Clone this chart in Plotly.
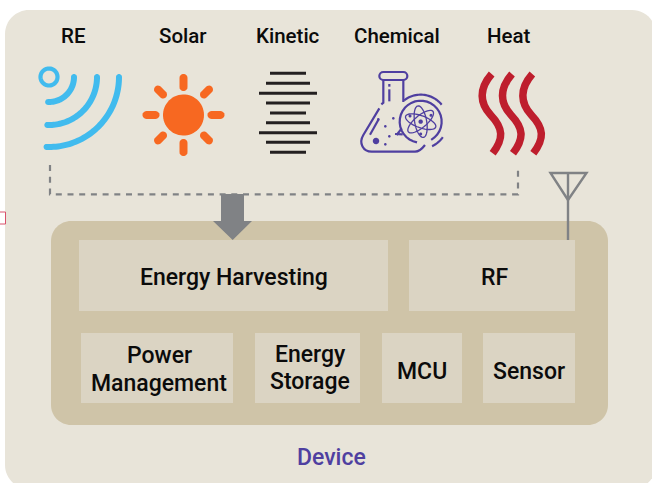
import numpy as np
import plotly.graph_objects as go

# --- content ---
source_labels = ["RE", "Solar", "Kinetic", "Chemical", "Heat"]
block_labels = ["Energy Harvesting", "RF", "Power", "Management", "Energy", "Storage", "MCU", "Sensor"]
device_label = "Device"

# --- layout helpers (pixel canvas) ---
W, H = 652, 483
PAPER = "#ffffff"; OUTER = "#E8E4D9"; INNER = "#CFC4A8"; BOX = "#DBD4C3"
GREY = "#808285"; BLUE = "#41BBEE"; ORANGE = "#F76821"; DARK = "#231F20"
PURPLE = "#4F3FA0"; RED = "#BE1E2D"
shapes = []

def add_path(d, fill=None, line=None, width=0, dash=None):
    l = dict(width=width, color=line or "rgba(0,0,0,0)")
    if dash: l["dash"] = dash
    shapes.append(dict(type="path", path=d, xref="x", yref="y", line=l,
                       fillcolor=fill or "rgba(0,0,0,0)", layer="above"))

def poly(pts, close=False):
    return "M" + " L".join(f"{x:.2f},{y:.2f}" for x, y in pts) + (" Z" if close else "")

def rrect(x0, y0, x1, y1, r):
    k = 0.45 * r
    return (f"M{x0+r},{y0} L{x1-r},{y0} C{x1-k},{y0} {x1},{y0+k} {x1},{y0+r} "
            f"L{x1},{y1-r} C{x1},{y1-k} {x1-k},{y1} {x1-r},{y1} "
            f"L{x0+r},{y1} C{x0+k},{y1} {x0},{y1-k} {x0},{y1-r} "
            f"L{x0},{y0+r} C{x0},{y0+k} {x0+k},{y0} {x0+r},{y0} Z")

def capsule(x0, y0, x1, y1, w):
    a = np.arctan2(y1 - y0, x1 - x0); r = w / 2
    t = np.linspace(-np.pi/2, np.pi/2, 12)
    p = [(x1 + r*np.cos(a+s), y1 + r*np.sin(a+s)) for s in t]
    p += [(x0 + r*np.cos(a+np.pi+s), y0 + r*np.sin(a+np.pi+s)) for s in t]
    return poly(p, True)

def arc_band(cx, cy, R, a0, a1, w):
    t = np.radians(np.linspace(a0, a1, 50)); r = w / 2
    p = [(cx + (R+r)*np.cos(s), cy + (R+r)*np.sin(s)) for s in t]
    c1 = np.linspace(0, np.pi, 10)
    e = (cx + R*np.cos(t[-1]), cy + R*np.sin(t[-1]))
    p += [(e[0] + r*np.cos(t[-1]+c), e[1] + r*np.sin(t[-1]+c)) for c in c1]
    p += [(cx + (R-r)*np.cos(s), cy + (R-r)*np.sin(s)) for s in t[::-1]]
    b = (cx + R*np.cos(t[0]), cy + R*np.sin(t[0]))
    p += [(b[0] + r*np.cos(t[0]+np.pi+c), b[1] + r*np.sin(t[0]+np.pi+c)) for c in c1]
    return poly(p, True)

def circle(cx, cy, r, **kw):
    t = np.linspace(0, 2*np.pi, 60)[:-1]
    add_path(poly([(cx+r*np.cos(s), cy+r*np.sin(s)) for s in t], True), **kw)

def arc_line(cx, cy, r, a0, a1, **kw):
    t = np.radians(np.linspace(a0, a1, 30))
    add_path(poly([(cx+r*np.cos(s), cy+r*np.sin(s)) for s in t]), **kw)

# backgrounds
add_path(rrect(5, 10, 656, 489, 24), fill=OUTER)
add_path(rrect(51, 221, 608, 425, 20), fill=INNER)
box_geometry = [(79, 240, 388, 311), (409, 240, 575, 311), (81, 333, 233, 403),
                (255, 333, 360, 403), (382, 333, 462, 403), (483, 333, 575, 403)]
for b in box_geometry:
    add_path(f"M{b[0]},{b[1]} L{b[2]},{b[1]} L{b[2]},{b[3]} L{b[0]},{b[3]} Z", fill=BOX)
add_path("M-1,212 L5.5,212 L5.5,224 L-1,224 Z", fill="#ffffff", line="#D9506A", width=1)

# RE icon
circle(49, 77, 8.5, line=BLUE, width=4.2)
for R in (25, 48, 70):
    add_path(arc_band(49, 77, R, 0, 92, 6), fill=BLUE)

# sun icon
sx, sy = 183.5, 115
circle(sx, sy, 20.5, fill=ORANGE)
for ang in range(0, 360, 45):
    c, s = np.cos(np.radians(ang)), np.sin(np.radians(ang))
    r0, r1 = (28, 37) if ang % 90 == 0 else (29, 36)
    add_path(capsule(sx+r0*c, sy+r0*s, sx+r1*c, sy+r1*s, 8), fill=ORANGE)

# kinetic icon
kin_half = [18, 22, 29, 22, 18, 22, 29, 22, 18]
kin_y = [73.3, 83.3, 93.3, 103, 113, 122.7, 132.7, 142.3, 152.3]
for hw, y in zip(kin_half, kin_y):
    add_path(f"M{288-hw},{y} L{288+hw},{y}", line=DARK, width=3)

# flask icon (drawn in the zoom's frame)
def fx(x): return 330 + x/3
def fy(y): return 10 + y/3
def fp(*pts): return poly([(fx(a), fy(b)) for a, b in pts])
lw = 2.2
add_path(rrect(fx(148), fy(186), fx(232), fy(210), 4), line=PURPLE, width=lw)
add_path(fp((160, 210), (160, 278), (154, 283)), line=PURPLE, width=lw)
add_path(fp((220, 210), (220, 276)), line=PURPLE, width=lw)
add_path(fp((178, 222), (178, 230)), line=PURPLE, width=lw)
add_path(fp((178, 238), (178, 274)), line=PURPLE, width=lw)
add_path(f"M{fx(148)},{fy(295)} L{fx(100)},{fy(375)} C{fx(85)},{fy(400)} {fx(100)},{fy(425)} {fx(125)},{fy(425)} "
         f"L{fx(255)},{fy(425)} C{fx(268)},{fy(425)} {fx(275)},{fy(418)} {fx(285)},{fy(405)}", line=PURPLE, width=lw)
add_path(fp((120, 374), (146, 328)), line=PURPLE, width=lw)
add_path(fp((200, 375), (215, 355)), line=PURPLE, width=lw)
add_path(fp((195, 372), (218, 373)), line=PURPLE, width=lw)
circle(fx(138), fy(393), 3.2, fill=PURPLE)
for a, b in [(145, 328), (190, 325), (166, 349), (178, 379), (166, 403)]:
    circle(fx(a), fy(b), 1.3, fill=PURPLE)
arc_line(fx(272), fy(335), 21, 100, 420, line=PURPLE, width=lw)
arc_line(fx(272), fy(335), 27, -128, -39, line=PURPLE, width=lw)
arc_line(fx(272), fy(335), 27, 35, 65, line=PURPLE, width=lw)
for rot in (20, 80, 140):
    t = np.linspace(0, 2*np.pi, 50); rr = np.radians(rot)
    ex, ey = 16*np.cos(t), 6*np.sin(t)
    add_path(poly(list(zip(fx(272)+ex*np.cos(rr)-ey*np.sin(rr), fy(335)+ex*np.sin(rr)+ey*np.cos(rr))), True),
             line=PURPLE, width=1.3)
circle(fx(272), fy(335), 2.2, fill=PURPLE)
for a, b in [(240, 318), (303, 316), (272, 372)]:
    circle(fx(a), fy(b), 1.5, fill=PURPLE)

# heat icon
for dx in (0, 61, 122):
    add_path(f"M{fx(485+dx)},{fy(192)} C{fx(445+dx)},{fy(238)} {fx(450+dx)},{fy(280)} {fx(482+dx)},{fy(315)} "
             f"C{fx(520+dx)},{fy(355)} {fx(522+dx)},{fy(385)} {fx(488+dx)},{fy(430)}", line=RED, width=7.5)

# connectors
add_path("M50,165 L50,194.3 L518,194.3 L518,165", line=GREY, width=2.2, dash="6px,5.7px")
add_path("M221,194 L244,194 L244,221 L252,221 L232.7,240 L213,221 L221,221 Z", fill=GREY)
add_path("M568,173 L568,240", line=GREY, width=2.4)
add_path("M550.5,173 L586.5,173 L568,200 Z", line=GREY, width=2.4)

# text
annotations = []
def label(txt, x, y, size=20, color="#0b0b0b"):
    annotations.append(dict(text=txt, x=x, y=y, xref="x", yref="y", showarrow=False,
                            xanchor="center", yanchor="middle", align="center",
                            font=dict(family="Roboto", size=size, color=color, weight=500)))

for t, x in zip(source_labels, [73, 183, 288, 397, 509]):
    label(t, x, 36, 20.5)
block_pos = [(233.5, 277), (494.5, 277), (159, 355), (159, 383), (310, 354), (310, 381), (422, 371), (529, 371)]
for t, (x, y) in zip(block_labels, block_pos):
    label(t, x, y, 23)
label(device_label, 331, 457, 23, PURPLE)

fig = go.Figure()
fig.update_layout(width=W, height=H, margin=dict(l=0, r=0, t=0, b=0), paper_bgcolor=PAPER, plot_bgcolor=PAPER,
                  shapes=shapes, annotations=annotations, showlegend=False,
                  xaxis=dict(range=[0, W], visible=False, fixedrange=True),
                  yaxis=dict(range=[H, 0], visible=False, fixedrange=True))
fig.add_trace(go.Scatter(x=[], y=[]))
fig.write_html("out.html", config=dict(displayModeBar=False),
               post_script="document.body.style.margin='0';document.body.style.overflow='hidden';")
